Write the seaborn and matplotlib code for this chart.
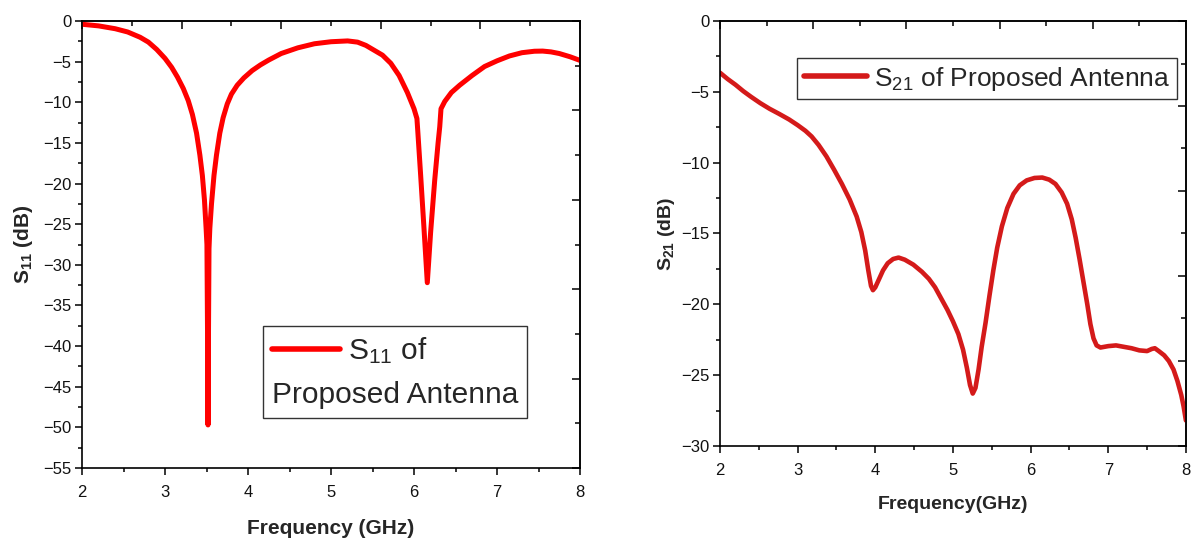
import numpy as np
import pandas as pd
import matplotlib
matplotlib.use("Agg")
import matplotlib.pyplot as plt
from matplotlib.lines import Line2D
from matplotlib.ticker import MultipleLocator, FixedLocator, NullFormatter
import seaborn as sns

# ---------------- data ----------------
s11_freq = [2.00, 2.20, 2.40, 2.55, 2.70, 2.80, 2.90, 3.00, 3.08, 3.15, 3.22, 3.28,
            3.33, 3.38, 3.42, 3.45, 3.475, 3.495, 3.505, 3.512, 3.518, 3.524, 3.53,
            3.54, 3.56, 3.59, 3.62, 3.66, 3.70, 3.75, 3.80, 3.87, 3.95, 4.05, 4.15,
            4.25, 4.40, 4.60, 4.80, 5.00, 5.20, 5.32, 5.42, 5.52, 5.62, 5.72, 5.82,
            5.92, 6.00, 6.035, 6.045, 6.08, 6.12, 6.16, 6.20, 6.25, 6.29, 6.31, 6.325,
            6.37, 6.45, 6.55, 6.70, 6.85, 7.00, 7.15, 7.30, 7.45, 7.55, 7.65, 7.75,
            7.88, 8.00]
s11_db = [-0.4, -0.6, -0.95, -1.35, -2.0, -2.6, -3.5, -4.6, -5.7, -6.9, -8.3, -9.8,
          -11.5, -13.8, -16.5, -19.0, -22.0, -25.5, -27.5, -38.0, -49.7, -38.0, -28.0,
          -25.5, -22.5, -19.0, -16.5, -13.8, -11.9, -10.2, -9.0, -7.9, -7.0, -6.1, -5.4,
          -4.8, -4.0, -3.3, -2.8, -2.55, -2.45, -2.6, -3.0, -3.6, -4.2, -5.2, -6.7,
          -8.8, -10.8, -12.0, -13.5, -19.0, -25.5, -32.2, -26.0, -19.5, -15.0, -13.0, -10.8,
          -9.9, -8.8, -7.9, -6.7, -5.6, -4.9, -4.3, -3.9, -3.72, -3.7, -3.8, -4.0,
          -4.4, -4.85]

s21_freq = [2.00, 2.10, 2.20, 2.30, 2.40, 2.52, 2.64, 2.76, 2.89, 3.00, 3.10, 3.18,
            3.27, 3.37, 3.47, 3.57, 3.67, 3.76, 3.82, 3.87, 3.91, 3.945, 3.97, 4.00,
            4.05, 4.10, 4.16, 4.23, 4.30, 4.38, 4.49, 4.60, 4.69, 4.77, 4.85, 4.93,
            5.00, 5.07, 5.13, 5.18, 5.22, 5.255, 5.29, 5.33, 5.37, 5.42, 5.47, 5.52,
            5.57, 5.63, 5.70, 5.78, 5.86, 5.95, 6.05, 6.15, 6.24, 6.32, 6.40, 6.47,
            6.53, 6.58, 6.63, 6.68, 6.73, 6.77, 6.81, 6.85, 6.90, 7.00, 7.10, 7.20,
            7.30, 7.40, 7.50, 7.56, 7.60, 7.65, 7.72, 7.78, 7.84, 7.89, 7.94, 7.97, 8.00]
s21_db = [-3.65, -4.1, -4.5, -4.95, -5.35, -5.8, -6.2, -6.55, -6.95, -7.35, -7.75, -8.15,
          -8.75, -9.55, -10.5, -11.5, -12.6, -13.8, -14.9, -16.2, -17.6, -18.7, -19.0, -18.8,
          -18.2, -17.6, -17.1, -16.8, -16.7, -16.85, -17.2, -17.7, -18.2, -18.8, -19.6, -20.4,
          -21.2, -22.1, -23.2, -24.5, -25.7, -26.3, -25.9, -24.6, -23.0, -21.3, -19.4, -17.6,
          -16.0, -14.5, -13.2, -12.2, -11.6, -11.25, -11.08, -11.05, -11.2, -11.5, -12.1, -12.9,
          -14.0, -15.3, -16.8, -18.4, -20.0, -21.4, -22.4, -22.9, -23.05, -22.95, -22.9, -23.0,
          -23.1, -23.25, -23.3, -23.15, -23.1, -23.3, -23.6, -24.0, -24.6, -25.4, -26.4, -27.2, -28.2]

x_ticks = [2, 3, 4, 5, 6, 7, 8]
s11_yticks = [-55, -50, -45, -40, -35, -30, -25, -20, -15, -10, -5, 0]
s21_yticks = [-30, -25, -20, -15, -10, -5, 0]

s11_label = r'$\mathregular{S_{11}}$ of'
s11_label2 = 'Proposed Antenna'
s21_label = r'$\mathregular{S_{21}}$ of Proposed Antenna'

# ---------------- style ----------------
sns.set_style("ticks")
plt.rcParams['font.family'] = ['Liberation Sans', 'DejaVu Sans']
plt.rcParams['mathtext.fontset'] = 'custom'
plt.rcParams['mathtext.rm'] = 'Liberation Sans'
plt.rcParams['mathtext.it'] = 'Liberation Sans:italic'
plt.rcParams['mathtext.bf'] = 'Liberation Sans:bold'

fig = plt.figure(figsize=(11.92, 5.40), dpi=100)
ax1 = fig.add_axes([0.0688, 0.1333, 0.4178, 0.8278])
ax2 = fig.add_axes([0.6040, 0.1741, 0.3909, 0.7870])

df1 = pd.DataFrame({'freq': s11_freq, 'db': s11_db})
df2 = pd.DataFrame({'freq': s21_freq, 'db': s21_db})

c1 = '#ff0000'
c2 = '#d41a1a'
sns.lineplot(data=df1, x='freq', y='db', ax=ax1, color=c1, lw=3.6, sort=False,
             estimator=None, legend=False, solid_joinstyle='round', solid_capstyle='round')
sns.lineplot(data=df2, x='freq', y='db', ax=ax2, color=c2, lw=3.3, sort=False,
             estimator=None, legend=False, solid_joinstyle='round', solid_capstyle='round')


def style(ax, ymin, ymax, yticks, yminor):
    ax.set_xlim(2, 8)
    ax.set_ylim(ymin, ymax)
    ax.set_xticks(x_ticks)
    ax.set_yticks(yticks)
    ax.xaxis.set_minor_locator(MultipleLocator(0.5))
    ax.yaxis.set_minor_locator(MultipleLocator(yminor))
    ax.tick_params(which='both', direction='out', top=False, right=False,
                   width=1.1, color='black', labelsize=12, labelcolor='#111111')
    ax.tick_params(axis='x', which='both', pad=7)
    ax.tick_params(axis='y', which='both', pad=2.5)
    ax.tick_params(which='major', length=5)
    ax.tick_params(which='minor', length=3)
    for sp in ax.spines.values():
        sp.set_visible(True)
        sp.set_linewidth(1.2)
        sp.set_color('black')
    # opposite axes (Origin-style, 5 divisions, ticks inward, no labels)
    top = ax.secondary_xaxis('top')
    top.set_xticks(np.linspace(2, 8, 6))
    top.xaxis.set_minor_locator(FixedLocator(np.linspace(2.6, 7.4, 5)))
    top.xaxis.set_major_formatter(NullFormatter())
    top.tick_params(which='both', direction='in', width=1.1, color='black')
    top.tick_params(which='major', length=6)
    top.tick_params(which='minor', length=3.5)
    top.spines['top'].set_linewidth(1.2)
    right = ax.secondary_yaxis('right')
    maj = np.linspace(ymin, ymax, 6)
    right.set_yticks(maj)
    right.yaxis.set_minor_locator(FixedLocator((maj[:-1] + maj[1:]) / 2))
    right.yaxis.set_major_formatter(NullFormatter())
    right.tick_params(which='both', direction='in', width=1.1, color='black')
    right.tick_params(which='major', length=6)
    right.tick_params(which='minor', length=3.5)
    right.spines['right'].set_linewidth(1.2)


style(ax1, -55, 0, s11_yticks, 2.5)
style(ax2, -30, 0, s21_yticks, 2.5)

ax1.set_xlabel('Frequency (GHz)', fontsize=15, fontweight='bold', labelpad=14)
ax1.set_ylabel(r'$\mathbf{S_{11}}$ (dB)', fontsize=15, fontweight='bold', labelpad=6)
ax2.set_xlabel('Frequency(GHz)', fontsize=14, fontweight='bold', labelpad=13)
ax2.set_ylabel(r'$\mathbf{S_{21}}$ (dB)', fontsize=14, fontweight='bold', labelpad=3)

# ---------------- legends ----------------
h1 = Line2D([], [], color=c1, lw=4.0, solid_capstyle='round')
leg1 = ax1.legend([h1], [s11_label], title=s11_label2, title_fontsize=21.5, fontsize=21.5,
                  loc='lower left', bbox_to_anchor=(0.363, 0.112), borderaxespad=0,
                  frameon=True, fancybox=False, edgecolor='#333333', framealpha=1,
                  handlelength=2.3, handletextpad=0.25, alignment='left', borderpad=0.3)
leg1.get_frame().set_linewidth(1.0)
leg1._legend_box._children = leg1._legend_box._children[::-1]

h2 = Line2D([], [], color=c2, lw=4.0, solid_capstyle='round')
leg2 = ax2.legend([h2], [s21_label], fontsize=19,
                  loc='upper right', bbox_to_anchor=(0.981, 0.913), borderaxespad=0,
                  frameon=True, fancybox=False, edgecolor='#333333', framealpha=1,
                  handlelength=2.4, handletextpad=0.27, borderpad=0.25)
leg2.get_frame().set_linewidth(1.0)

fig.savefig('out.png', dpi=100)
